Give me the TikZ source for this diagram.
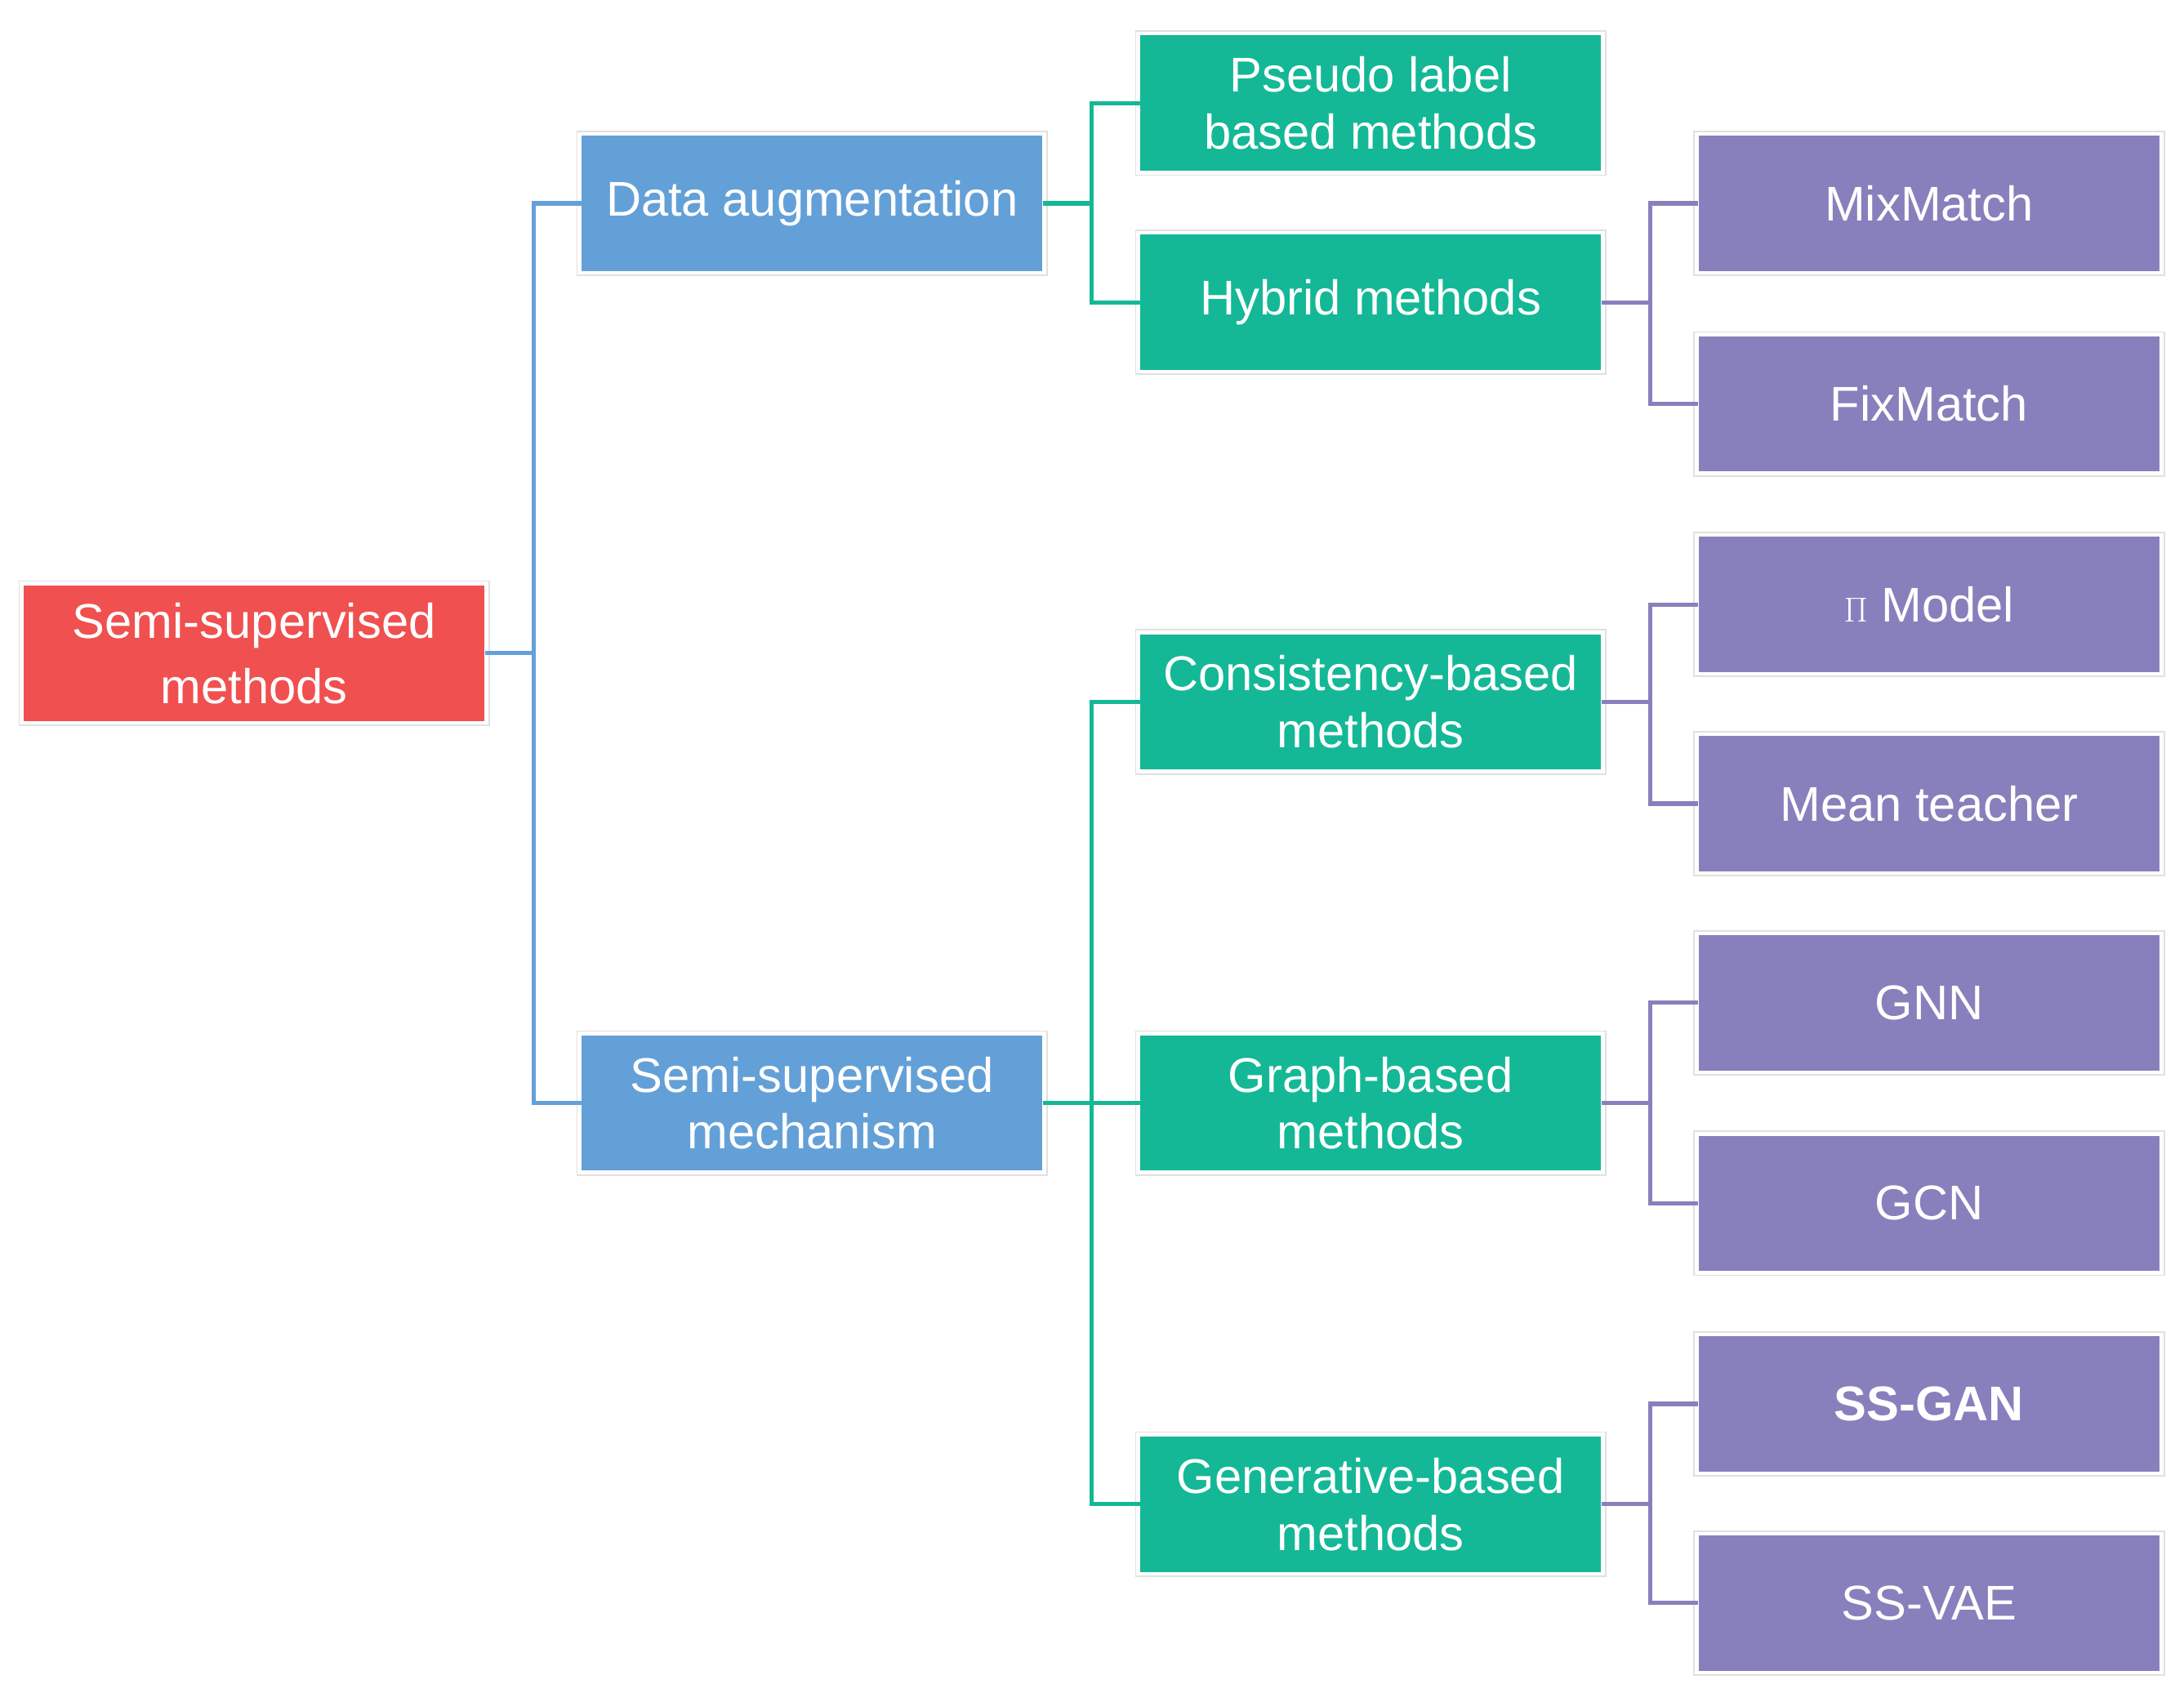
\documentclass[tikz,border=0pt]{standalone}
\usepackage{fontspec}
\setmainfont{Liberation Sans}
\begin{document}
\begin{tikzpicture}[x=1pt,y=-1pt,
  box/.style={fill=#1,draw=none,text=white,minimum width=331pt,minimum height=97pt,inner sep=0pt,align=center,font=\fontsize{35}{41}\selectfont},
  lb/.style={draw=cb,line width=3pt},
  lg/.style={draw=cg,line width=3pt},
  lp/.style={draw=cp,line width=3pt}]
\definecolor{cr}{HTML}{F05050}
\definecolor{cb}{HTML}{64A0D8}
\definecolor{cg}{HTML}{14B896}
\definecolor{cp}{HTML}{8880BC}
\useasboundingbox (0,0) rectangle (1568,1222);
\node[box=cr] (root) at (182.5,469) {Semi-supervised\\[6pt]methods};
\node[box=cb] (da) at (583,146) {Data augmentation};
\node[box=cb] (sm) at (583,792) {Semi-supervised\\mechanism};
\node[box=cg] (pl) at (984,74) {Pseudo label\\based methods};
\node[box=cg] (hy) at (984,217) {Hybrid methods};
\node[box=cg] (co) at (984,504) {Consistency-based\\methods};
\node[box=cg] (gr) at (984,792) {Graph-based\\methods};
\node[box=cg] (ge) at (984,1080) {Generative-based\\methods};
\node[box=cp] (mm) at (1385,146) {MixMatch};
\node[box=cp] (fm) at (1385,290) {FixMatch};
\node[box=cp] (pi) at (1385,434) {$\Pi$ Model};
\node[box=cp] (mt) at (1385,577) {Mean teacher};
\node[box=cp] (gnn) at (1385,720) {GNN};
\node[box=cp] (gcn) at (1385,864) {GCN};
\node[box=cp,font=\fontsize{35}{41}\selectfont\bfseries] (sg) at (1385,1008) {SS-GAN};
\node[box=cp] (sv) at (1385,1151) {SS-VAE};
\foreach \n in {root,da,sm,pl,hy,co,gr,ge,mm,fm,pi,mt,gnn,gcn,sg,sv}
  \draw[black!12,line width=1pt] ([xshift=-3pt,yshift=-3pt]\n.south west) rectangle ([xshift=3pt,yshift=3pt]\n.north east);
\draw[lb] (root.east) -- ++(35,0) |- (da.west);
\draw[lb] (root.east) -- ++(35,0) |- (sm.west);
\draw[lg] (da.east) -- ++(35,0) |- (pl.west);
\draw[lg] (da.east) -- ++(35,0) |- (hy.west);
\foreach \t in {co,gr,ge} \draw[lg] (sm.east) -- ++(35,0) |- (\t.west);
\foreach \s/\a/\b in {hy/mm/fm,co/pi/mt,gr/gnn/gcn,ge/sg/sv}{
  \draw[lp] (\s.east) -- ++(35,0) |- (\a.west);
  \draw[lp] (\s.east) -- ++(35,0) |- (\b.west);}
\end{tikzpicture}
\end{document}
